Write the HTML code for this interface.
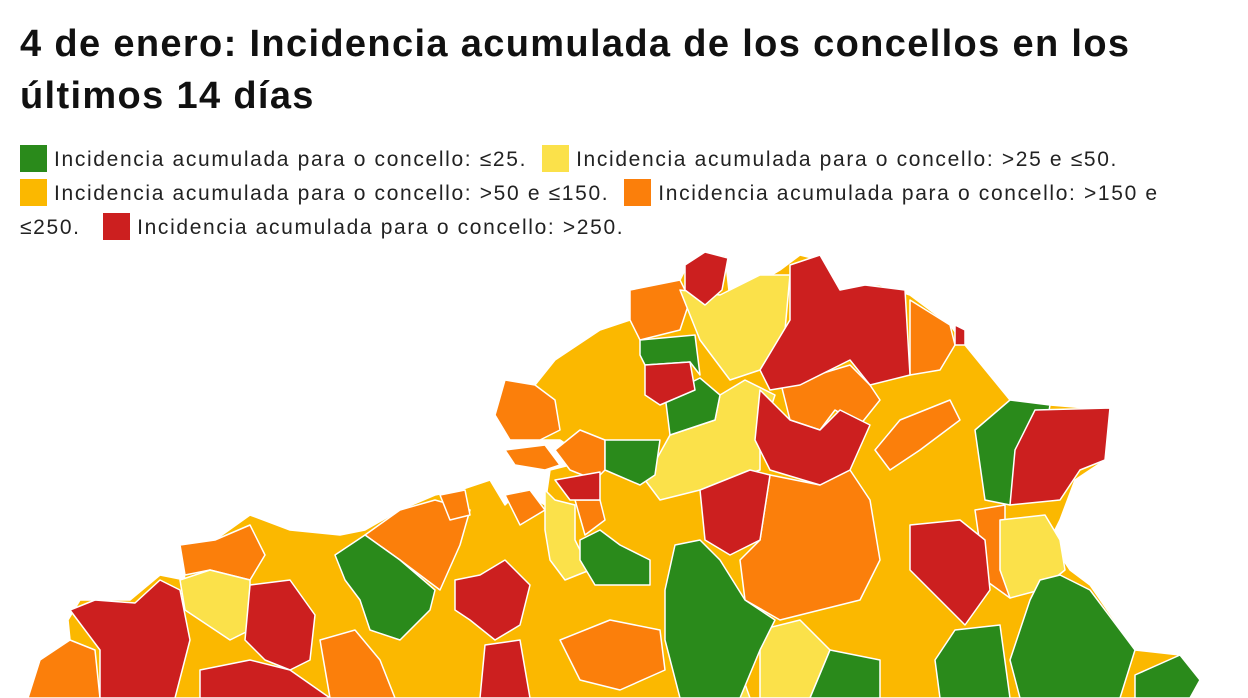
<!DOCTYPE html>
<html><head><meta charset="utf-8"><style>
body{margin:0;width:1248px;height:698px;overflow:hidden;background:#fff;font-family:"Liberation Sans",sans-serif;}
h1{position:absolute;left:20px;top:18px;margin:0;font-size:38px;line-height:52px;font-weight:bold;color:#111;letter-spacing:1.35px;white-space:nowrap;}
.lg{position:absolute;left:20px;top:143px;font-size:21px;line-height:34px;color:#222;width:1220px;letter-spacing:1.65px;white-space:nowrap;}
.sw{display:inline-block;width:27px;height:27px;vertical-align:-6px;margin-right:7px;}
svg{position:absolute;left:0;top:0;}
</style></head><body>
<h1>4 de enero: Incidencia acumulada de los concellos en los<br>últimos 14 días</h1>
<div class="lg"><span class="sw" style="background:#2a8a1b"></span>Incidencia acumulada para o concello: ≤25. &nbsp;<span class="sw" style="background:#fbe14a"></span>Incidencia acumulada para o concello: &gt;25 e ≤50.<br><span class="sw" style="background:#fbb800"></span>Incidencia acumulada para o concello: &gt;50 e ≤150. &nbsp;<span class="sw" style="background:#fb7f0b"></span>Incidencia acumulada para o concello: &gt;150 e<br>≤250. &nbsp;&nbsp;<span class="sw" style="background:#cc1f1f"></span>Incidencia acumulada para o concello: &gt;250.</div>
<svg width="1248" height="698" stroke="#fff" stroke-width="1.5" stroke-linejoin="round">
<polygon fill="#fbb800" points="28,698 40,660 70,640 68,620 80,600 130,600 160,575 185,580 180,545 215,540 250,515 290,530 340,535 365,530 400,510 435,495 460,490 490,480 505,505 520,490 545,505 550,470 590,460 560,440 510,440 495,415 505,380 535,385 555,360 600,330 630,320 630,290 680,280 690,260 725,255 730,300 780,270 800,255 820,260 840,290 860,285 880,285 910,295 950,325 965,345 1010,400 1050,405 1110,410 1105,460 1075,480 1060,520 1050,540 1070,570 1090,585 1135,650 1180,655 1200,680 1190,698"/>
<g fill="#fb7f0b">
<polygon points="630,290 680,280 690,300 680,330 640,340 630,320"/>
<polygon points="495,415 505,380 535,385 555,400 560,430 540,440 510,440"/>
<polygon points="505,450 545,445 560,465 545,470 515,465"/>
<polygon points="910,300 950,325 955,345 940,370 910,375"/>
<polygon points="775,360 800,380 850,365 870,385 880,400 860,425 835,410 820,430 790,420"/>
<polygon points="770,475 820,485 850,470 870,500 880,560 860,600 820,610 780,620 745,600 740,560 760,540"/>
<polygon points="900,420 950,400 960,420 920,450 890,470 875,450"/>
<polygon points="975,510 1005,505 1005,560 1010,598 985,580"/>
<polygon points="365,535 400,510 435,500 470,510 460,545 440,590 400,560"/>
<polygon points="440,495 465,490 470,515 450,520"/>
<polygon points="505,495 530,490 545,510 520,525"/>
<polygon points="180,545 215,540 250,525 265,555 250,580 210,570 185,575"/>
<polygon points="130,610 170,650 160,698 140,698 145,660"/>
<polygon points="28,698 40,660 70,640 95,650 100,698"/>
<polygon points="320,640 355,630 380,660 395,698 330,698"/>
<polygon points="560,640 610,620 660,630 665,670 620,690 580,680"/>
<polygon points="580,430 605,440 605,470 595,480 570,470 555,450"/>
<polygon points="575,500 600,500 605,520 585,535"/>
</g>
<g fill="#fbe14a">
<polygon points="680,290 720,295 760,275 790,275 785,330 760,370 730,380 700,340"/>
<polygon points="720,395 745,380 775,395 760,440 760,470 700,490 660,500 645,480 670,435 715,420"/>
<polygon points="1000,520 1045,515 1060,540 1065,570 1040,590 1010,598 1000,570"/>
<polygon points="545,490 555,500 575,505 575,540 590,570 565,580 550,560 545,530"/>
<polygon points="180,580 210,570 250,580 250,630 230,640 200,620 185,610"/>
<polygon points="760,630 800,620 830,650 810,698 760,698"/>
<polygon points="700,670 740,670 750,698 690,698"/>
</g>
<g fill="#2a8a1b">
<polygon points="640,340 695,335 700,375 690,362 645,365 640,355"/>
<polygon points="665,395 700,378 720,395 715,420 670,435"/>
<polygon points="605,440 660,440 655,475 640,485 605,470"/>
<polygon points="1010,400 1050,405 1045,435 1020,460 1010,505 985,500 975,430"/>
<polygon points="580,540 600,530 620,545 650,560 650,585 595,585 580,560"/>
<polygon points="335,555 365,535 400,560 435,590 430,610 400,640 370,630 360,600 345,580"/>
<polygon points="675,545 700,540 720,560 745,600 775,620 760,650 740,698 680,698 665,640 665,590"/>
<polygon points="1040,580 1060,575 1090,590 1135,650 1120,698 1020,698 1010,660 1030,600"/>
<polygon points="1135,675 1180,655 1200,680 1190,698 1135,698"/>
<polygon points="955,630 1000,625 1010,698 940,698 935,660"/>
<polygon points="830,650 880,660 880,698 810,698"/>
</g>
<g fill="#cc1f1f">
<polygon points="685,265 705,252 728,258 722,290 705,305 685,290"/>
<polygon points="790,265 820,255 840,290 865,285 905,290 910,375 870,385 850,360 800,385 770,390 760,370 790,320"/>
<polygon points="955,325 965,330 965,345 955,345"/>
<polygon points="645,365 690,362 695,390 660,405 645,395"/>
<polygon points="760,390 790,420 820,430 840,410 870,425 850,470 820,485 770,470 755,440"/>
<polygon points="700,490 750,470 770,475 760,540 730,555 705,540"/>
<polygon points="1035,410 1110,408 1105,460 1080,470 1060,500 1010,505 1015,450"/>
<polygon points="910,525 960,520 985,540 990,590 965,625 935,595 910,570"/>
<polygon points="555,480 600,472 600,500 570,500"/>
<polygon points="455,580 480,575 505,560 530,585 520,625 495,640 470,620 455,610"/>
<polygon points="70,610 95,600 135,603 160,580 180,590 190,640 175,698 100,698 100,650"/>
<polygon points="250,585 290,580 315,615 310,660 290,670 265,660 245,640"/>
<polygon points="200,670 250,660 290,670 330,698 200,698"/>
<polygon points="485,645 520,640 530,698 480,698"/>
</g>
</svg>
</body></html>
